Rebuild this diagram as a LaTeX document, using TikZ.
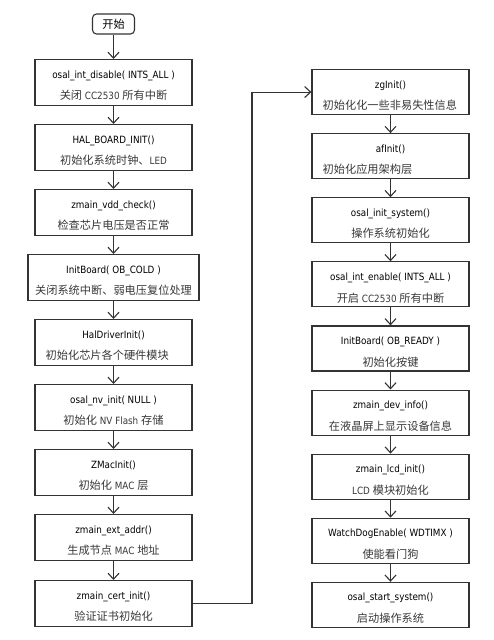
\documentclass[tikz,border=0pt]{standalone}
\usepackage{fontspec}
\setmainfont{DejaVu Sans}[FakeStretch=0.88]
\newfontfamily\cjk{Noto Sans CJK SC}[Scale=1.12]
\usetikzlibrary{arrows.meta}
\definecolor{edge}{HTML}{333333}
\definecolor{note}{HTML}{383838}
\newcommand\zhtext[1]{{\cjk #1}}
\tikzset{
  stepbox/.style={draw=edge, line width=1.1pt, minimum width=157pt, minimum height=46pt, inner sep=0pt},
  startbox/.style={draw=edge, line width=1.1pt, rounded corners=4pt, minimum width=42pt, minimum height=20pt, inner sep=0pt, font=\fontsize{10}{11}\selectfont},
  fn/.style={font=\fontsize{10}{11}\selectfont, inner sep=0pt, text=black},
  cn/.style={font=\fontsize{10}{11}\selectfont, inner sep=0pt, text=note},
  flow/.style={draw=edge, line width=1.1pt, -{Straight Barb[length=6pt,width=11pt]}},
}
% #1 name, #2 centre x, #3 top y, #4 width, #5 height, #6 call, #7 note
\newcommand\flowbox[7]{%
  \node[stepbox, minimum width=#4pt, minimum height=#5pt, anchor=north] (#1) at (#2,#3) {};
  \node[fn] (#1-a) at ([yshift=-16.5pt]#1.north) {#6};
  \node[cn] (#1-b) at ([yshift=-36.5pt]#1.north) {#7};
}
% same box, note set flush left
\newcommand\flowboxl[7]{%
  \node[stepbox, minimum width=#4pt, minimum height=#5pt, anchor=north] (#1) at (#2,#3) {};
  \node[fn] (#1-a) at ([yshift=-16.5pt]#1.north) {#6};
  \node[cn, anchor=west] (#1-b) at ([xshift=11pt,yshift=-36.5pt]#1.north west) {#7};
}
\begin{document}
\begin{tikzpicture}[x=1pt,y=-1pt]
\useasboundingbox (0,0) rectangle (493,640);

\node[startbox] (start) at (113.5,24) {\zhtext{开始}};

% left column
\flowbox{ida}{113.5}{59}{157}{46}{osal\_int\_disable( INTS\_ALL )}{\zhtext{关闭} CC2530 \zhtext{所有中断}}
\flowbox{hbi}{113.5}{124}{157}{46}{HAL\_BOARD\_INIT()}{\zhtext{初始化系统时钟、}LED}
\flowbox{vdd}{113.5}{189}{157}{46}{zmain\_vdd\_check()}{\zhtext{检查芯片电压是否正常}}
\flowbox{ibc}{113.5}{254}{171}{46}{InitBoard( OB\_COLD )}{\zhtext{关闭系统中断、弱电压复位处理}}
\flowboxl{hdi}{113.5}{319}{157}{46}{HalDriverInit()}{\zhtext{初始化芯片各个硬件模块}}
\flowbox{nvi}{113.5}{384}{157}{46}{osal\_nv\_init( NULL )}{\zhtext{初始化} NV Flash \zhtext{存储}}
\flowbox{zmi}{113.5}{449}{157}{46}{ZMacInit()}{\zhtext{初始化} MAC \zhtext{层}}
\flowbox{ext}{113.5}{514}{157}{46}{zmain\_ext\_addr()}{\zhtext{生成节点} MAC \zhtext{地址}}
\flowbox{cert}{113.5}{580}{157}{46}{zmain\_cert\_init()}{\zhtext{验证证书初始化}}

% right column
\flowboxl{zg}{390.5}{69}{157}{45}{zgInit()}{\zhtext{初始化化一些非易失性信息}}
\flowboxl{af}{390.5}{133.1}{157}{45}{afInit()}{\zhtext{初始化应用架构层}}
\flowbox{ois}{390.5}{197.2}{157}{45}{osal\_init\_system()}{\zhtext{操作系统初始化}}
\flowbox{ien}{390.5}{261.3}{157}{45}{osal\_int\_enable( INTS\_ALL )}{\zhtext{开启} CC2530 \zhtext{所有中断}}
\flowbox{ibr}{390.5}{325.4}{157}{45}{InitBoard( OB\_READY )}{\zhtext{初始化按键}}
\flowbox{dev}{390.5}{389.5}{157}{45}{zmain\_dev\_info()}{\zhtext{在液晶屏上显示设备信息}}
\flowbox{lcd}{390.5}{453.6}{157}{45}{zmain\_lcd\_init()}{LCD \zhtext{模块初始化}}
\flowbox{wdt}{390.5}{517.7}{157}{45}{WatchDogEnable( WDTIMX )}{\zhtext{使能看门狗}}
\flowbox{oss}{390.5}{581.8}{157}{45}{osal\_start\_system()}{\zhtext{启动操作系统}}

% connectors
\draw[flow] (start) -- (ida);
\draw[flow] (ida) -- (hbi);
\draw[flow] (hbi) -- (vdd);
\draw[flow] (vdd) -- (ibc);
\draw[flow] (ibc) -- (hdi);
\draw[flow] (hdi) -- (nvi);
\draw[flow] (nvi) -- (zmi);
\draw[flow] (zmi) -- (ext);
\draw[flow] (ext) -- (cert);

\coordinate (loop) at (252,0);
\draw[flow] (cert.east) -- (cert.east -| loop) |- (zg.west);

\draw[flow] (zg) -- (af);
\draw[flow] (af) -- (ois);
\draw[flow] (ois) -- (ien);
\draw[flow] (ien) -- (ibr);
\draw[flow] (ibr) -- (dev);
\draw[flow] (dev) -- (lcd);
\draw[flow] (lcd) -- (wdt);
\draw[flow] (wdt) -- (oss);
\end{tikzpicture}
\end{document}
